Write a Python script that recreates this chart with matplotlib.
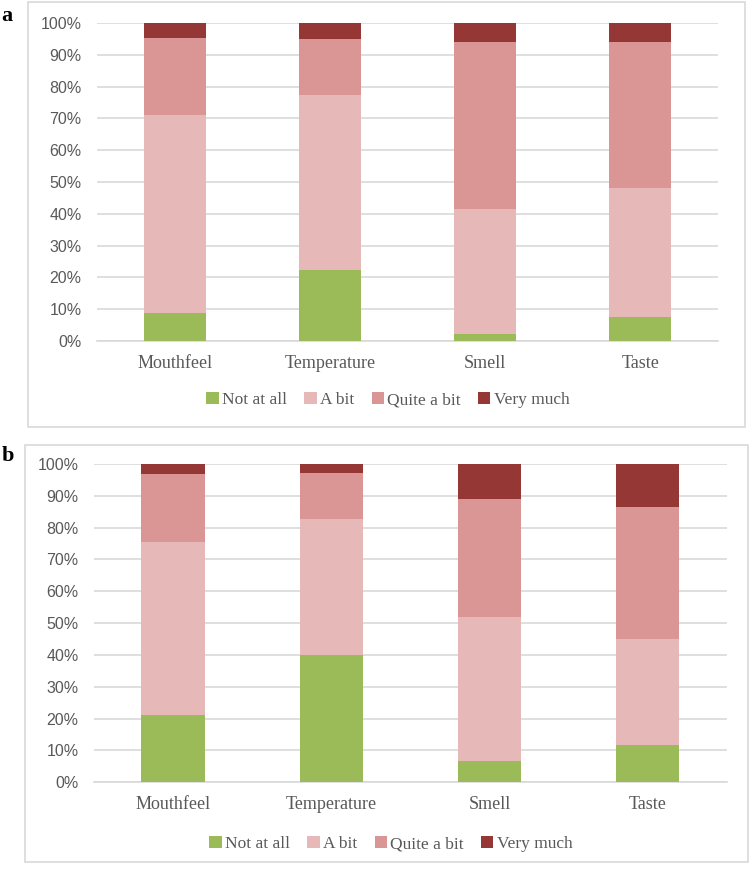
import matplotlib

matplotlib.use("Agg")
import matplotlib.pyplot as plt
from matplotlib.patches import Rectangle
import numpy as np

categories = ["Mouthfeel", "Temperature", "Smell", "Taste"]
levels = ["Not at all", "A bit", "Quite a bit", "Very much"]
colors = ["#9BBB59", "#E6B9B8", "#D99694", "#953735"]

# panel a (percent of respondents)
a_not = [8.9, 22.3, 2.2, 7.5]
a_bit = [62.2, 55.1, 39.2, 40.5]
a_quite = [24.3, 17.5, 52.8, 46.2]
a_very = [4.6, 5.1, 5.8, 5.8]

# panel b
b_not = [21.0, 39.9, 6.7, 11.8]
b_bit = [54.6, 42.9, 45.2, 33.3]
b_quite = [21.3, 14.3, 37.2, 41.3]
b_very = [3.1, 2.9, 10.9, 13.6]

TXT = "#595959"
GRID = "#d9d9d9"
SERIF = ["Liberation Serif", "DejaVu Serif"]
TICKFONT = ["Liberation Sans Narrow", "Liberation Sans", "DejaVu Sans"]


def draw_panel(fig, rect, frame, series, letter, letter_xy, legend_y, legend_x):
    fig.patches.append(Rectangle(frame[:2], frame[2], frame[3], transform=fig.transFigure,
                                 facecolor="none", edgecolor=GRID, linewidth=1.2, zorder=0))
    ax = fig.add_axes(rect)
    x = np.arange(len(categories))
    bottom = np.zeros(len(categories))
    for name, vals, c in zip(levels, series, colors):
        ax.bar(x, vals, 0.4, bottom=bottom, color=c, label=name, zorder=3)
        bottom += np.array(vals)
    ax.set_xlim(-0.5, 3.5)
    ax.set_ylim(0, 100)
    ax.set_yticks(range(0, 101, 10))
    ax.set_yticklabels([f"{v}%" for v in range(0, 101, 10)], family=TICKFONT,
                       fontsize=11.5, color=TXT)
    ax.set_xticks(x)
    ax.set_xticklabels(categories, family=SERIF, fontsize=13, color=TXT)
    ax.tick_params(axis="y", length=0, pad=11)
    ax.tick_params(axis="x", length=0, pad=10)
    ax.grid(axis="y", color=GRID, linewidth=1.2, zorder=0)
    ax.spines[["top", "right", "left"]].set_visible(False)
    ax.spines["bottom"].set_color(GRID)
    ax.spines["bottom"].set_linewidth(1.2)
    ax.set_facecolor("none")
    h, l = ax.get_legend_handles_labels()
    fig.legend(h, l, loc="center", bbox_to_anchor=(legend_x, legend_y), ncol=4,
               frameon=False, handlelength=0.7, handleheight=0.7, handletextpad=0.2,
               columnspacing=1.0, prop={"family": SERIF, "size": 12.5}, labelcolor=TXT)
    fig.text(letter_xy[0], letter_xy[1], letter, family=SERIF, fontsize=16,
             fontweight="bold", va="center", ha="left")
    return ax


fig = plt.figure(figsize=(7.49, 8.71), dpi=100)
draw_panel(fig, [0.1295, 0.6085, 0.829, 0.365], (0.0374, 0.5098, 0.957, 0.488),
           [a_not, a_bit, a_quite, a_very], "a", (0.002, 0.982), 0.5405, 0.518)
draw_panel(fig, [0.1255, 0.1018, 0.845, 0.3655], (0.0334, 0.0103, 0.965, 0.479),
           [b_not, b_bit, b_quite, b_very], "b", (0.002, 0.476), 0.031, 0.522)
fig.savefig("out.png", dpi=100, facecolor="white")
